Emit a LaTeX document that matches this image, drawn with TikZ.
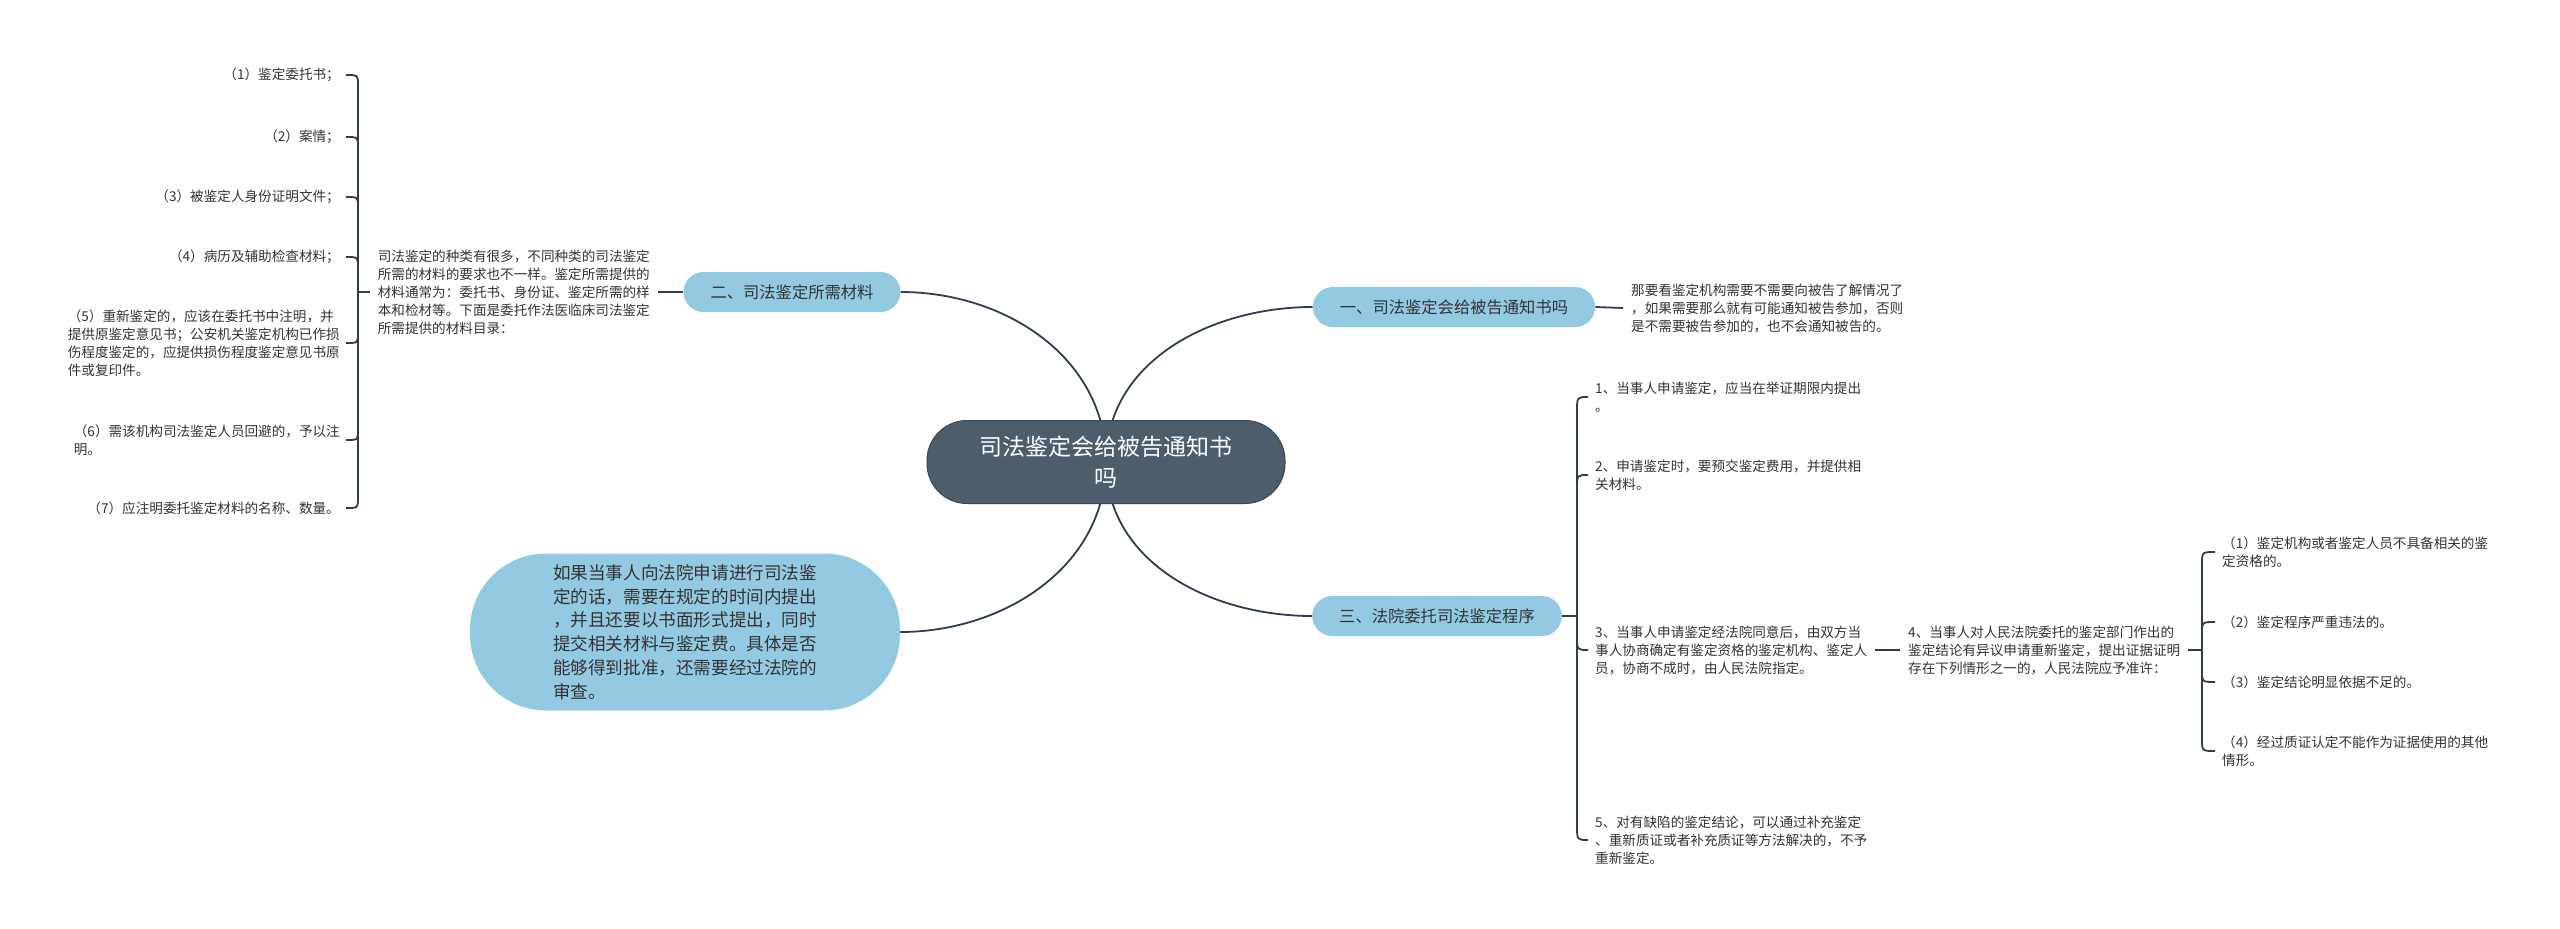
\documentclass[tikz,border=0pt]{standalone}
\usepackage{fontspec}
\setmainfont{Noto Sans CJK SC}
\usetikzlibrary{positioning,backgrounds,calc}

\definecolor{rootfill}{HTML}{4E5D6C}
\definecolor{topicfill}{HTML}{94C9E2}
\definecolor{linecol}{HTML}{2F3E4E}
\definecolor{txtcol}{HTML}{333333}

\begin{document}
\begin{tikzpicture}[
  x=1pt, y=-1pt,
  rootbox/.style={draw=rootfill!75!black, line width=1pt, fill=rootfill, text=white, rounded corners=40pt, minimum width=358pt, minimum height=83pt, align=center, font=\fontsize{23pt}{31pt}\selectfont},
  topicbox/.style={fill=topicfill, text=txtcol, rounded corners=20pt, minimum height=40pt, inner xsep=27pt, font=\fontsize{16.3pt}{20pt}\selectfont},
  bigbox/.style={fill=topicfill, text=txtcol, rounded corners=76pt, minimum width=430pt, minimum height=157pt, align=left, font=\fontsize{17.6pt}{23.8pt}\selectfont},
  notebox/.style={text=txtcol, inner sep=0pt, align=left, font=\fontsize{13.6pt}{18pt}\selectfont},
  link/.style={draw=linecol, line width=1.8pt}
]
  \useasboundingbox (0,0) rectangle (2560,929);

  % centre and main topics
  \node[rootbox] (root) at (1106,462) {司法鉴定会给被告通知书\\吗};
  \node[topicbox] (b1) at (1454,307) {一、司法鉴定会给被告通知书吗};
  \node[topicbox] (b2) at (792,292) {二、司法鉴定所需材料};
  \node[topicbox] (b3) at (1437,616) {三、法院委托司法鉴定程序};
  \node[bigbox] (big) at (685,632) {如果当事人向法院申请进行司法鉴\\定的话，需要在规定的时间内提出\\，并且还要以书面形式提出，同时\\提交相关材料与鉴定费。具体是否\\能够得到批准，还需要经过法院的\\审查。};

  % notes
  \node[notebox, anchor=west] (n1) at (1631,308) {那要看鉴定机构需要不需要向被告了解情况了\\，如果需要那么就有可能通知被告参加，否则\\是不需要被告参加的，也不会通知被告的。};
  \node[notebox, anchor=east] (n2) at (650,292) {司法鉴定的种类有很多，不同种类的司法鉴定\\所需的材料的要求也不一样。鉴定所需提供的\\材料通常为：委托书、身份证、鉴定所需的样\\本和检材等。下面是委托作法医临床司法鉴定\\所需提供的材料目录：};

  % material list
  \node[notebox, anchor=east] (m1) at (340,75) {（1）鉴定委托书；};
  \node[notebox, anchor=east] (m2) at (340,137) {（2）案情；};
  \node[notebox, anchor=east] (m3) at (340,197) {（3）被鉴定人身份证明文件；};
  \node[notebox, anchor=east] (m4) at (340,257) {（4）病历及辅助检查材料；};
  \node[notebox, anchor=east] (m5) at (340,343) {（5）重新鉴定的，应该在委托书中注明，并\\提供原鉴定意见书；公安机关鉴定机构已作损\\伤程度鉴定的，应提供损伤程度鉴定意见书原\\件或复印件。};
  \node[notebox, anchor=east] (m6) at (340,440) {（6）需该机构司法鉴定人员回避的，予以注\\明。};
  \node[notebox, anchor=east] (m7) at (340,508) {（7）应注明委托鉴定材料的名称、数量。};

  % procedure list
  \node[notebox, anchor=west] (k1) at (1595,397) {1、当事人申请鉴定，应当在举证期限内提出\\。};
  \node[notebox, anchor=west] (k2) at (1595,475) {2、申请鉴定时，要预交鉴定费用，并提供相\\关材料。};
  \node[notebox, anchor=west] (k3) at (1595,650) {3、当事人申请鉴定经法院同意后，由双方当\\事人协商确定有鉴定资格的鉴定机构、鉴定人\\员，协商不成时，由人民法院指定。};
  \node[notebox, anchor=west] (k4) at (1908,650) {4、当事人对人民法院委托的鉴定部门作出的\\鉴定结论有异议申请重新鉴定，提出证据证明\\存在下列情形之一的，人民法院应予准许：};
  \node[notebox, anchor=west] (k5) at (1595,840) {5、对有缺陷的鉴定结论，可以通过补充鉴定\\、重新质证或者补充质证等方法解决的，不予\\重新鉴定。};

  \node[notebox, anchor=west] (s1) at (2222,552) {（1）鉴定机构或者鉴定人员不具备相关的鉴\\定资格的。};
  \node[notebox, anchor=west] (s2) at (2222,622) {（2）鉴定程序严重违法的。};
  \node[notebox, anchor=west] (s3) at (2222,682) {（3）鉴定结论明显依据不足的。};
  \node[notebox, anchor=west] (s4) at (2222,751) {（4）经过质证认定不能作为证据使用的其他\\情形。};

  % bracket spines
  \coordinate (lsp) at (358,0);
  \coordinate (rsp) at (1577,0);
  \coordinate (ssp) at (2202,0);

  \begin{scope}[on background layer]
    \fill[white] (0,0) rectangle (2560,929);
    \draw[link] (root.center) to[out=90,in=180] (b1.west);
    \draw[link] (root.center) to[out=90,in=0] (b2.east);
    \draw[link] (root.center) to[out=-90,in=180] (b3.west);
    \draw[link] (root.center) to[out=-90,in=0] (big.east);
  \end{scope}

  \draw[link] (b1.east) -- ([xshift=-8pt]n1.west);
  \draw[link] ([xshift=8pt]n2.east) -- (b2.west);
  \draw[link] ([xshift=-8pt]n2.west) -- (lsp|-n2.west);
  \draw[link] ($(lsp|-m1.east)+(0,10)$) -- ($(lsp|-m7.east)+(0,-10)$);
  \foreach \c/\d in {m1/1,m2/1,m3/1,m4/1,m5/-1,m6/-1,m7/-1}
    \draw[link] ([xshift=6pt]\c.east) .. controls (lsp|-\c.east) .. ($(lsp|-\c.east)+(0,\d*10)$);

  \draw[link] (b3.east) -- (rsp|-b3.east);
  \draw[link] ($(rsp|-k1.west)+(0,14)$) -- ($(rsp|-k5.west)+(0,-14)$);
  \foreach \c/\d in {k1/1,k2/1,k3/-1,k5/-1}
    \draw[link] ([xshift=-7pt]\c.west) .. controls (rsp|-\c.west) .. ($(rsp|-\c.west)+(0,\d*14)$);

  \draw[link] ([xshift=8pt]k3.east) -- ([xshift=-8pt]k4.west);
  \draw[link] ([xshift=8pt]k4.east) -- (ssp|-k4.east);
  \draw[link] ($(ssp|-s1.west)+(0,12)$) -- ($(ssp|-s4.west)+(0,-12)$);
  \foreach \c/\d in {s1/1,s2/1,s3/-1,s4/-1}
    \draw[link] ([xshift=-7pt]\c.west) .. controls (ssp|-\c.west) .. ($(ssp|-\c.west)+(0,\d*12)$);
\end{tikzpicture}
\end{document}
